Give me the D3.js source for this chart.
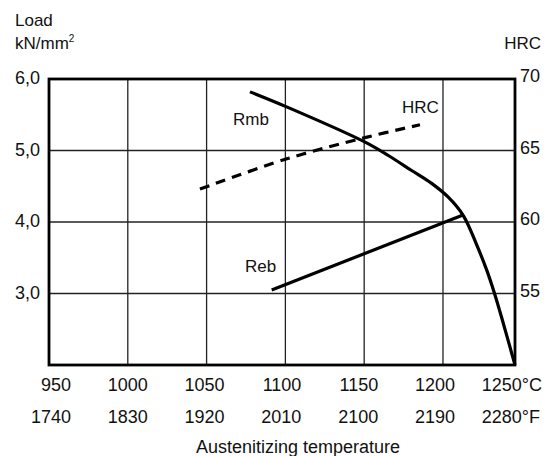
<!DOCTYPE html>
<html>
<head>
<meta charset="utf-8">
<script src="https://cdn.jsdelivr.net/npm/d3@7"></script>
<style>
  html, body { margin: 0; padding: 0; background: #fff; }
  svg text { font-family: "Liberation Sans Narrow", "Arial Narrow", "Liberation Sans", Arial, sans-serif; font-size: 18px; fill: #111; }
  svg text.lbl { font-size: 17px; }
</style>
</head>
<body>
<svg id="chart" width="545" height="456"></svg>
<script>
// tick values / labels
const celsiusTicks = [950, 1000, 1050, 1100, 1150, 1200, 1250];
const fahrenheitLabels = ["1740", "1830", "1920", "2010", "2100", "2190", "2280"];
const loadTicks = [3, 4, 5, 6];
const hrcTicks = [55, 60, 65, 70];

// Rmb curve, kN/mm2
const rmbTemp = [1077.5, 1100.8, 1150.3, 1165.3, 1180.1, 1192.8, 1203.2, 1212.9, 1221.4, 1227.7, 1233.0, 1238.3, 1245.7];
const rmbLoad = [5.82, 5.61, 5.12, 4.93, 4.72, 4.54, 4.35, 4.09, 3.68, 3.33, 2.98, 2.58, 2.0];

// Reb curve
const rebTemp = [1091.3, 1211.9];
const rebLoad = [3.05, 4.09];

// hardness, HRC (right axis)
const hrcTemp = [1045.8, 1100.4, 1150.5, 1185.4];
const hrcValue = [62.3, 64.4, 65.9, 66.8];

const svg = d3.select('#chart');
const mLeft = 49, mRight = 515, mTop = 79, mBottom = 365;

const x = d3.scaleLinear().domain([950, 1245.7]).range([mLeft, mRight]);
const yLoad = d3.scaleLinear().domain([2, 6]).range([mBottom, mTop]);
const yHrc = d3.scaleLinear().domain([50, 70]).range([mBottom, mTop]);

// grid
svg.append('g')
  .selectAll('line')
  .data(celsiusTicks.slice(1, -1))
  .join('line')
  .attr('x1', d => x(d)).attr('x2', d => x(d))
  .attr('y1', mTop).attr('y2', mBottom)
  .attr('stroke', '#222').attr('stroke-width', 1.3);

svg.append('g')
  .selectAll('line')
  .data(loadTicks.slice(0, -1))
  .join('line')
  .attr('x1', mLeft).attr('x2', mRight)
  .attr('y1', d => yLoad(d)).attr('y2', d => yLoad(d))
  .attr('stroke', '#222').attr('stroke-width', 1.3);

// frame
svg.append('rect')
  .attr('x', mLeft).attr('y', mTop)
  .attr('width', mRight - mLeft).attr('height', mBottom - mTop)
  .attr('fill', 'none').attr('stroke', '#000').attr('stroke-width', 2.8);

// curves
const lineLoad = d3.line().x(d => x(d[0])).y(d => yLoad(d[1])).curve(d3.curveCatmullRom);
const lineHrc = d3.line().x(d => x(d[0])).y(d => yHrc(d[1])).curve(d3.curveCatmullRom);

svg.append('path')
  .attr('d', lineLoad(d3.zip(rmbTemp, rmbLoad)))
  .attr('fill', 'none').attr('stroke', '#000').attr('stroke-width', 3.2);

svg.append('path')
  .attr('d', lineLoad(d3.zip(rebTemp, rebLoad)))
  .attr('fill', 'none').attr('stroke', '#000').attr('stroke-width', 3.2);

svg.append('path')
  .attr('d', lineHrc(d3.zip(hrcTemp, hrcValue)))
  .attr('fill', 'none').attr('stroke', '#000').attr('stroke-width', 3.2)
  .attr('stroke-dasharray', '10,7');

// curve labels
svg.append('text').attr('class', 'lbl').attr('x', 233).attr('y', 125).text('Rmb');
svg.append('text').attr('class', 'lbl').attr('x', 402).attr('y', 113).text('HRC');
svg.append('text').attr('class', 'lbl').attr('x', 245).attr('y', 272).text('Reb');

// left axis labels
svg.append('g')
  .selectAll('text')
  .data(loadTicks)
  .join('text')
  .attr('x', 15)
  .attr('y', d => yLoad(d) + 5)
  .text(d => d.toFixed(1).replace('.', ','));

// right axis labels
svg.append('g')
  .selectAll('text')
  .data(hrcTicks)
  .join('text')
  .attr('x', 520)
  .attr('y', d => yHrc(d) + 3)
  .text(d => d);

// bottom labels, right-aligned a bit right of each grid line
const lastI = celsiusTicks.length - 1;
const labelX = (d, i) => i < lastI ? x(d) + 22 - 2 * i : x(d);

svg.append('g')
  .selectAll('text')
  .data(celsiusTicks)
  .join('text')
  .attr('text-anchor', 'end')
  .attr('x', (d, i) => labelX(d, i))
  .attr('y', 391)
  .text(d => d);

svg.append('g')
  .selectAll('text')
  .data(fahrenheitLabels)
  .join('text')
  .attr('text-anchor', 'end')
  .attr('x', (d, i) => labelX(celsiusTicks[i], i))
  .attr('y', 423)
  .text(d => d);

svg.append('text').attr('x', x(1250)).attr('y', 391).text('°C');
svg.append('text').attr('x', x(1250)).attr('y', 423).text('°F');

// axis titles
svg.append('text').attr('class', 'lbl').attr('x', 15).attr('y', 26).text('Load');
const unit = svg.append('text').attr('class', 'lbl').attr('x', 15).attr('y', 49).text('kN/mm');
unit.append('tspan').attr('dy', -7).style('font-size', '10px').text('2');
svg.append('text').attr('class', 'lbl').attr('x', 541).attr('y', 49).attr('text-anchor', 'end').text('HRC');
svg.append('text').attr('x', 298).attr('y', 453).attr('text-anchor', 'middle').text('Austenitizing temperature');
</script>
</body>
</html>
